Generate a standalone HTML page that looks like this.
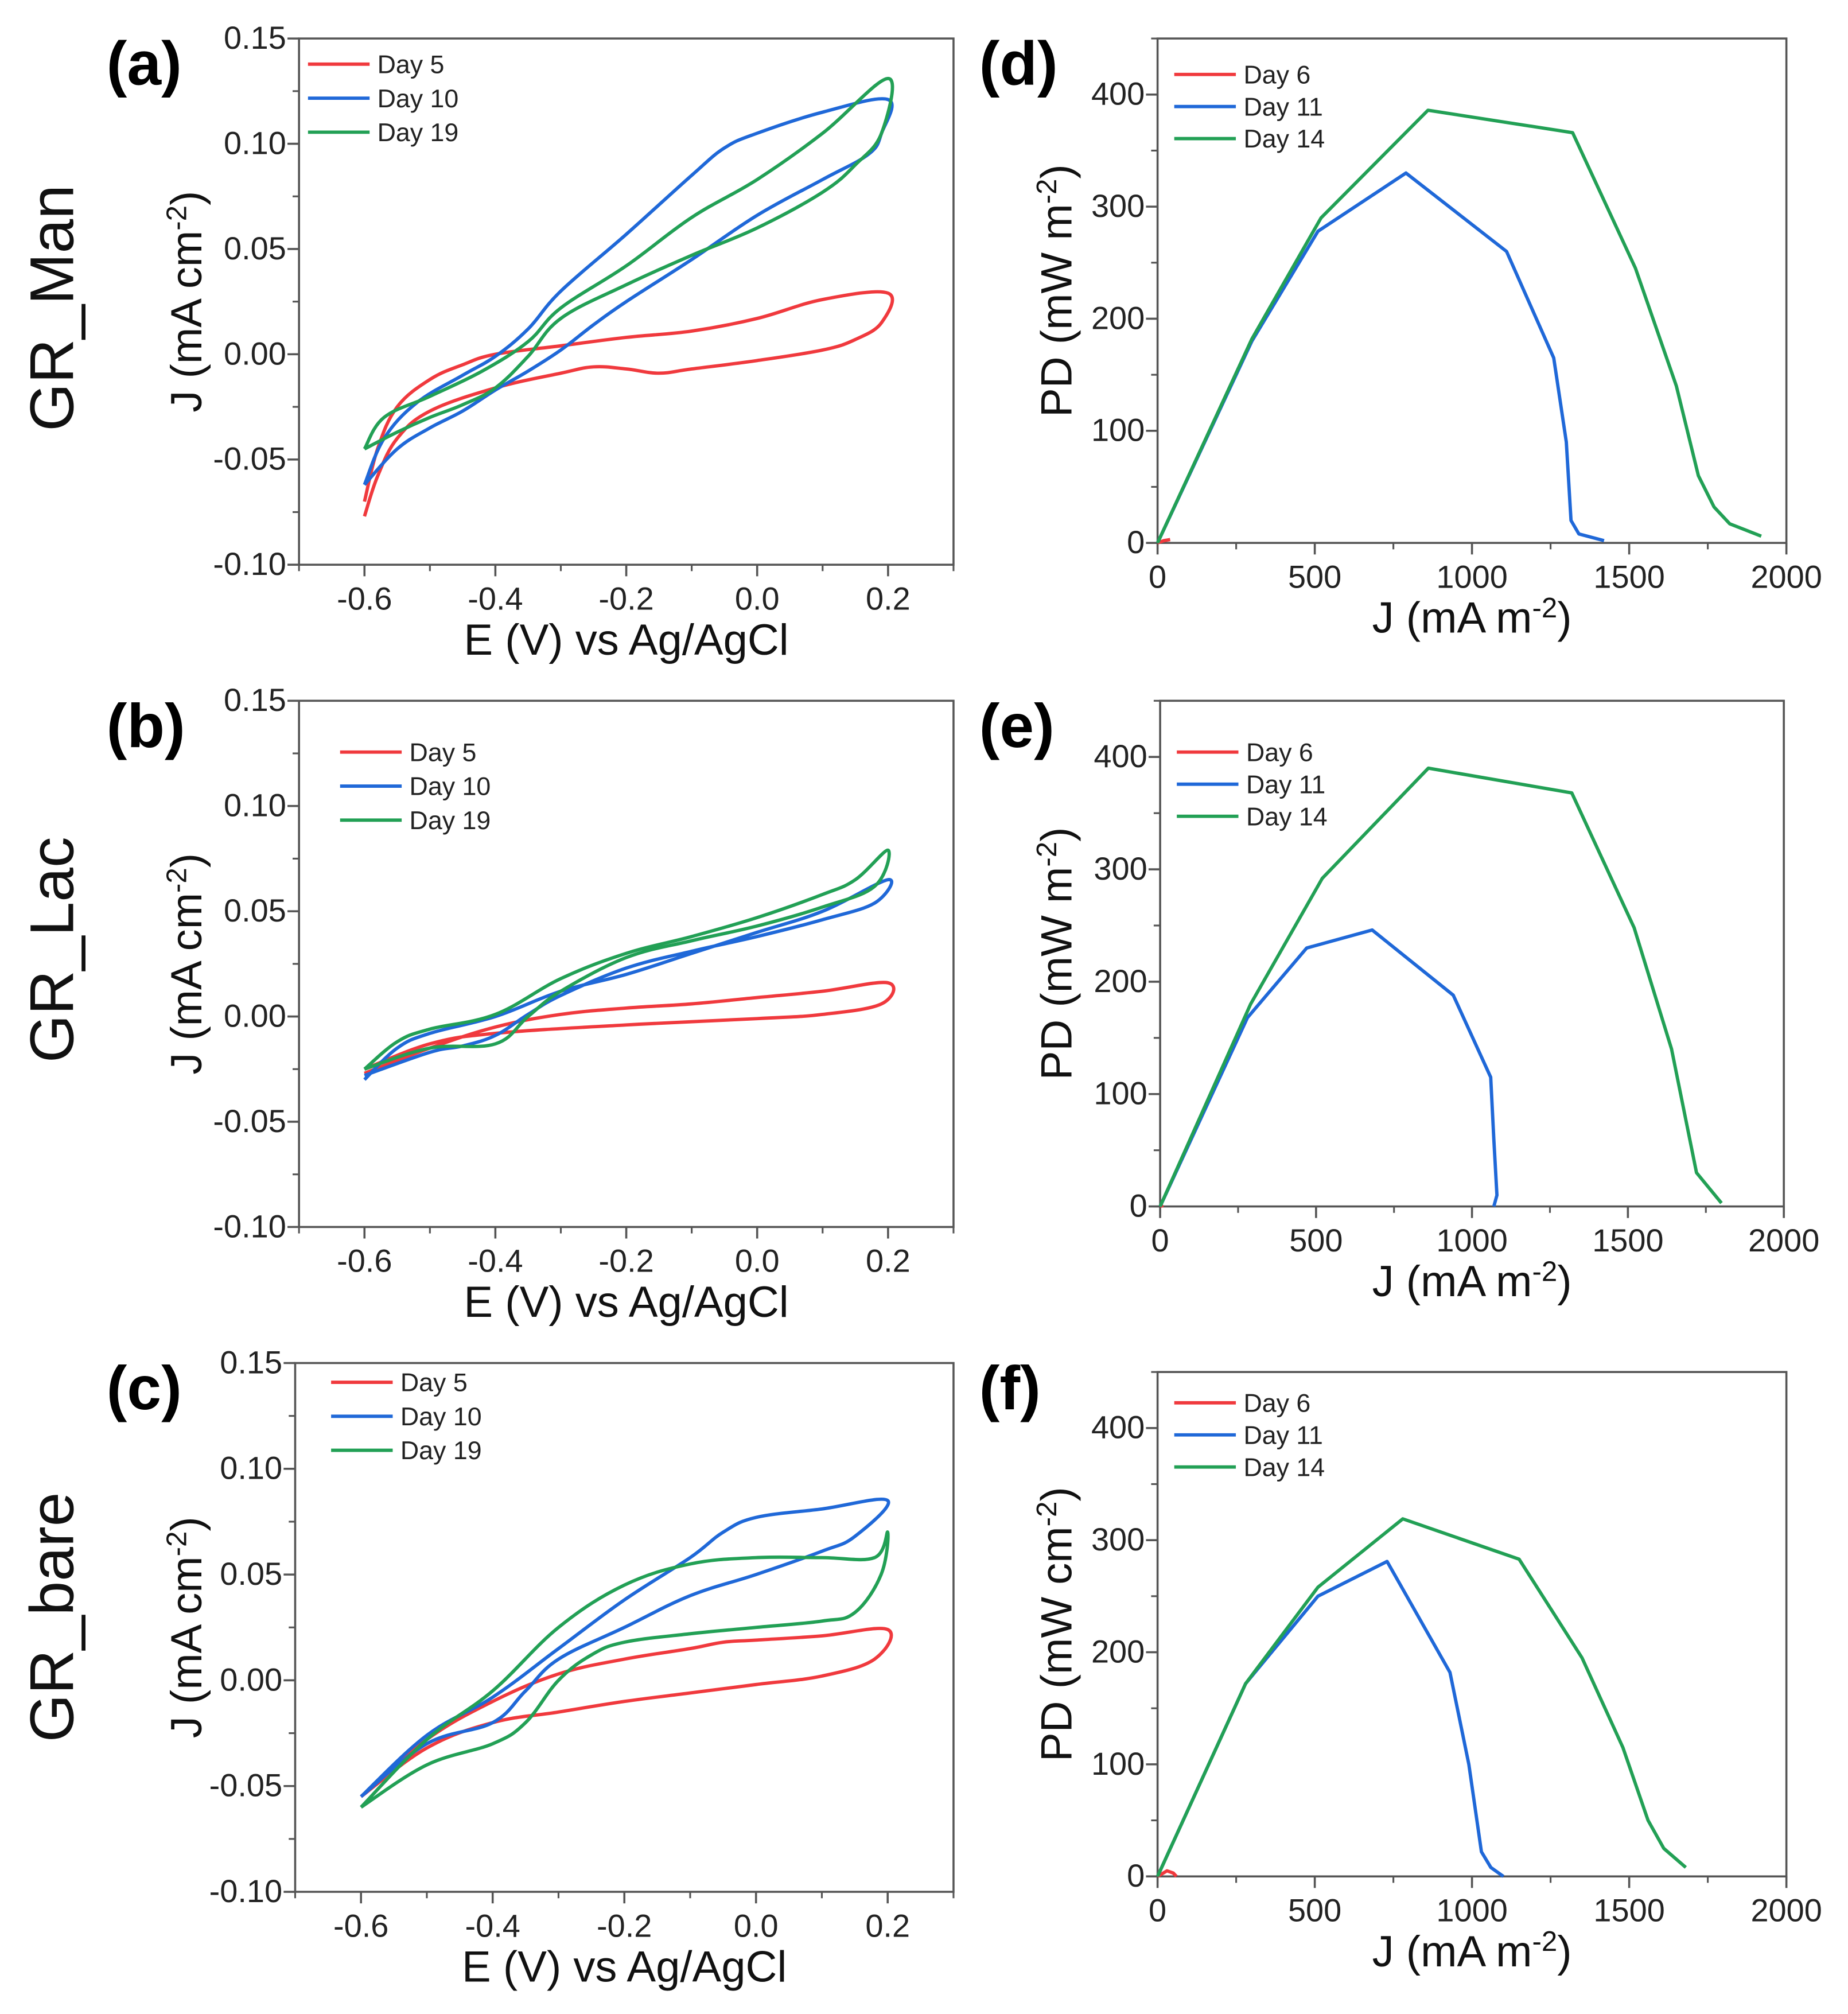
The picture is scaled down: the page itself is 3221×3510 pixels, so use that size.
<!DOCTYPE html>
<html><head><meta charset="utf-8">
<style>
html,body{margin:0;padding:0;background:#fff;}
svg{display:block;font-family:"Liberation Sans",Arial,sans-serif;}
</style></head>
<body>
<svg id="fig" width="3221" height="3510" viewBox="0 0 1440 1569.2" xmlns="http://www.w3.org/2000/svg">
<rect width="1440" height="1569.2" fill="#fff"/>
</svg>
<script>
// ---- CV data (E in V, J in mA cm-2), closed loops ----
const cvA_d5_E=[-0.6,-0.58,-0.55,-0.5,-0.45,-0.4,-0.3,-0.2,-0.1,0.0,0.1,0.2,0.19,0.15,0.1,0.0,-0.1,-0.15,-0.2,-0.25,-0.3,-0.4,-0.5,-0.55,-0.58,-0.6];
const cvA_d5_J=[-0.07,-0.045,-0.025,-0.012,-0.005,0.0,0.004,0.008,0.011,0.017,0.026,0.029,0.015,0.007,0.002,-0.003,-0.007,-0.009,-0.007,-0.006,-0.009,-0.016,-0.027,-0.04,-0.058,-0.077];
const cvA_d10_E=[-0.6,-0.57,-0.52,-0.45,-0.4,-0.35,-0.3,-0.2,-0.1,-0.05,0.0,0.1,0.2,0.19,0.17,0.1,0.0,-0.1,-0.2,-0.25,-0.3,-0.35,-0.4,-0.45,-0.5,-0.55,-0.6];
const cvA_d10_J=[-0.062,-0.04,-0.023,-0.01,-0.001,0.012,0.03,0.057,0.085,0.098,0.105,0.115,0.121,0.105,0.095,0.083,0.066,0.045,0.025,0.014,0.002,-0.008,-0.017,-0.027,-0.035,-0.045,-0.062];
const cvA_d19_E=[-0.6,-0.57,-0.5,-0.42,-0.35,-0.3,-0.2,-0.1,0.0,0.1,0.2,0.19,0.15,0.1,0.0,-0.1,-0.2,-0.3,-0.35,-0.4,-0.45,-0.5,-0.55,-0.6];
const cvA_d19_J=[-0.045,-0.03,-0.02,-0.008,0.006,0.022,0.042,0.065,0.083,0.105,0.131,0.105,0.09,0.077,0.06,0.047,0.033,0.017,-0.001,-0.016,-0.024,-0.03,-0.037,-0.045];

const cvB_d5_E=[-0.6,-0.5,-0.4,-0.3,-0.2,-0.1,0,0.1,0.2,0.19,0.1,0,-0.2,-0.4,-0.5,-0.6];
const cvB_d5_J=[-0.027,-0.015,-0.005,0.001,0.004,0.006,0.009,0.012,0.016,0.006,0.001,-0.001,-0.004,-0.008,-0.013,-0.025];
const cvB_d10_E=[-0.6,-0.55,-0.5,-0.4,-0.3,-0.2,-0.1,0,0.1,0.2,0.18,0.1,0,-0.1,-0.2,-0.3,-0.35,-0.4,-0.45,-0.5,-0.6];
const cvB_d10_J=[-0.03,-0.015,-0.008,0.0,0.012,0.02,0.03,0.04,0.05,0.065,0.054,0.046,0.038,0.031,0.023,0.01,0.001,-0.009,-0.014,-0.017,-0.028];
const cvB_d19_E=[-0.6,-0.55,-0.5,-0.4,-0.3,-0.2,-0.1,0,0.1,0.15,0.2,0.18,0.1,0,-0.1,-0.2,-0.3,-0.35,-0.4,-0.5,-0.6];
const cvB_d19_J=[-0.025,-0.012,-0.006,0.001,0.018,0.03,0.038,0.047,0.058,0.065,0.079,0.062,0.052,0.043,0.036,0.028,0.012,0.0,-0.013,-0.015,-0.025];

const cvC_d5_E=[-0.6,-0.5,-0.4,-0.3,-0.2,-0.1,-0.05,0,0.1,0.2,0.18,0.1,0,-0.1,-0.2,-0.3,-0.4,-0.5,-0.6];
const cvC_d5_J=[-0.055,-0.028,-0.01,0.003,0.01,0.015,0.018,0.019,0.021,0.024,0.01,0.002,-0.002,-0.006,-0.01,-0.015,-0.02,-0.032,-0.055];
const cvC_d10_E=[-0.6,-0.5,-0.4,-0.3,-0.2,-0.1,-0.05,0,0.1,0.2,0.15,0.1,0,-0.1,-0.2,-0.3,-0.35,-0.4,-0.5,-0.6];
const cvC_d10_J=[-0.055,-0.026,-0.008,0.015,0.038,0.058,0.07,0.077,0.081,0.085,0.068,0.061,0.05,0.04,0.025,0.01,-0.005,-0.02,-0.03,-0.055];
const cvC_d19_E=[-0.6,-0.5,-0.4,-0.35,-0.3,-0.25,-0.2,-0.1,0,0.1,0.15,0.19,0.2,0.18,0.1,0,-0.1,-0.2,-0.3,-0.4,-0.5,-0.6];
const cvC_d19_J=[-0.06,-0.04,-0.03,-0.02,0.0,0.012,0.018,0.022,0.025,0.028,0.032,0.05,0.07,0.058,0.058,0.058,0.055,0.045,0.025,-0.005,-0.028,-0.06];

// ---- Power density data (J mA m-2, PD) ----
const pdD_d6_J=[0,20,40]; const pdD_d6_P=[0,2,3];
const pdD_d11_J=[0,300,510,790,1110,1260,1300,1315,1340,1420]; const pdD_d11_P=[0,180,278,330,260,165,90,20,8,2];
const pdD_d14_J=[0,300,520,860,1320,1520,1650,1720,1770,1820,1920]; const pdD_d14_P=[0,182,290,386,366,245,140,60,32,17,6];
const pdE_d6_J=[0,10]; const pdE_d6_P=[0,1];
const pdE_d11_J=[0,280,470,680,940,1060,1070,1080,1070]; const pdE_d11_P=[0,168,230,246,188,115,60,10,0];
const pdE_d14_J=[0,290,520,860,1320,1520,1640,1720,1800]; const pdE_d14_P=[0,180,292,390,368,248,140,30,3];
const pdF_d6_J=[0,30,50,60]; const pdF_d6_P=[0,5,3,0];
const pdF_d11_J=[0,280,510,730,930,990,1030,1060,1100]; const pdF_d11_P=[0,172,250,281,182,100,22,8,0];
const pdF_d14_J=[0,280,510,780,1150,1350,1480,1560,1610,1680]; const pdF_d14_P=[0,172,258,319,283,195,115,50,25,8];

const cvXTicks=[-0.6,-0.4,-0.2,0.0,0.2];
const cvYTicks=[0.15,0.10,0.05,0.00,-0.05,-0.10];
const pdXTicks=[0,500,1000,1500,2000];
const pdYTicks=[0,100,200,300,400];
const cvLegend=["Day 5","Day 10","Day 19"];
const pdLegend=["Day 6","Day 11","Day 14"];
const COLORS=["#f0393d","#1f68d8","#22a055"];

const svg=document.getElementById('fig');
const NS="http://www.w3.org/2000/svg";
function mk(tag,attrs,parent){const e=document.createElementNS(NS,tag);for(const k in attrs)e.setAttribute(k,attrs[k]);(parent||svg).appendChild(e);return e;}
function txt(str,attrs,parent){const e=mk('text',attrs,parent);e.textContent=str;return e;}

function smoothPath(pts){
  let d='M'+pts[0][0].toFixed(2)+','+pts[0][1].toFixed(2);
  for(let i=0;i<pts.length-1;i++){
    const p0=pts[Math.max(0,i-1)],p1=pts[i],p2=pts[i+1],p3=pts[Math.min(pts.length-1,i+2)];
    const t=0.18;
    const c1=[p1[0]+(p2[0]-p0[0])*t,p1[1]+(p2[1]-p0[1])*t];
    const c2=[p2[0]-(p3[0]-p1[0])*t,p2[1]-(p3[1]-p1[1])*t];
    d+=' C'+c1[0].toFixed(2)+','+c1[1].toFixed(2)+' '+c2[0].toFixed(2)+','+c2[1].toFixed(2)+' '+p2[0].toFixed(2)+','+p2[1].toFixed(2);
  }
  return d;
}

function panel(cfg){
  const g=mk('g',{});
  
  
  const {L,R,T,B,xmin,xmax,ymin,ymax}=cfg;
  const sx=v=>L+(v-xmin)/(xmax-xmin)*(R-L);
  const sy=v=>B-(v-ymin)/(ymax-ymin)*(B-T);
  const box=mk('rect',{x:L,y:T,width:R-L,height:B-T,fill:'none',stroke:'#555','stroke-width':1.6},g);
  
  
  for(let v=xmin;v<=xmax+1e-9;v+=cfg.xminor){const x=sx(v);mk('line',{x1:x,x2:x,y1:B,y2:B+5,stroke:'#555','stroke-width':1.4},g);}
  for(let v=ymin;v<=ymax+1e-9;v+=cfg.yminor){const y=sy(v);mk('line',{x1:L,x2:L-5,y1:y,y2:y,stroke:'#555','stroke-width':1.4},g);}
  cfg.xticks.forEach(v=>{const x=sx(v);mk('line',{x1:x,x2:x,y1:B,y2:B+9,stroke:'#555','stroke-width':1.6},g);
    const t=txt(cfg.xfmt(v),{x:x,y:B+35,'font-size':25,'text-anchor':'middle',fill:'#222'},g);
    
    });
  cfg.yticks.forEach(v=>{const y=sy(v);mk('line',{x1:L,x2:L-9,y1:y,y2:y,stroke:'#555','stroke-width':1.6},g);
    const t=txt(cfg.yfmt(v),{x:L-10,y:y+8,'font-size':25,'text-anchor':'end',fill:'#222'},g);
    
    });
  cfg.series.forEach((s,i)=>{
    const pts=s[0].map((xv,k)=>[sx(xv),sy(s[1][k])]);
    const d=cfg.smooth?smoothPath(pts):pts.map((p,k)=>(k?'L':'M')+p[0].toFixed(2)+','+p[1].toFixed(2)).join(' ');
    const p=mk('path',{d:d,fill:'none',stroke:COLORS[i],'stroke-width':2.6,'stroke-linejoin':'round'},g);
    
    
  });
  cfg.legend.forEach((lab,i)=>{
    const y=cfg.legY+i*cfg.legDy;
    const l=mk('line',{x1:cfg.legX,x2:cfg.legX+48,y1:y,y2:y,stroke:COLORS[i],'stroke-width':2.6},g);
    
    
    const t=txt(lab,{x:cfg.legX+54,y:y+7,'font-size':20,fill:'#222'},g);
    
    
  });
  const xl=mk('text',{x:(L+R)/2+cfg.xlOff,y:B+70,'font-size':34,'text-anchor':'middle',fill:'#111'},g);
  xl.innerHTML=cfg.xlabel;
  
  
  const yl=mk('text',{x:0,y:0,'font-size':34,'text-anchor':'middle',fill:'#111',transform:`translate(${cfg.ylX},${(T+B)/2}) rotate(-90)`},g);
  yl.innerHTML=cfg.ylabel;
  
  
  const pl=txt(cfg.tag,{x:cfg.tagX,y:cfg.tagY,'font-size':48,'font-weight':'bold',fill:'#000'},g);
  
  
}

const cvF=v=>v.toFixed(1);
const cvYF=v=>v.toFixed(2);
const cvYL='J (mA cm<tspan dy="-12" font-size="22">-2</tspan><tspan dy="12">)</tspan>';
function cv(name,tag,T,B,L,series,legX,legY,tagY){
  panel({name,tag,L,R:743,T,B,xmin:-0.7,xmax:0.3,ymin:-0.10,ymax:0.15,xminor:0.1,yminor:0.025,
    xticks:cvXTicks,yticks:cvYTicks,xfmt:cvF,yfmt:cvYF,series,legend:cvLegend,legX,legY,legDy:26.5,smooth:true,
    xlabel:'E (V) vs Ag/AgCl',xlOff:0,ylabel:cvYL,ylX:157,tagX:83,tagY});
}
cv('cv-panel-a','(a)',30,440,233,[[cvA_d5_E,cvA_d5_J],[cvA_d10_E,cvA_d10_J],[cvA_d19_E,cvA_d19_J]],240,50,66);
cv('cv-panel-b','(b)',546,956,233,[[cvB_d5_E,cvB_d5_J],[cvB_d10_E,cvB_d10_J],[cvB_d19_E,cvB_d19_J]],265,586,582);
cv('cv-panel-c','(c)',1062,1474,230,[[cvC_d5_E,cvC_d5_J],[cvC_d10_E,cvC_d10_J],[cvC_d19_E,cvC_d19_J]],258,1077,1098);

const pdF=v=>String(v);
function pd(name,tag,T,B,L,R,series,legY,ylabel,tagY){
  panel({name,tag,L,R,T,B,xmin:0,xmax:2000,ymin:0,ymax:450,xminor:250,yminor:50,
    xticks:pdXTicks,yticks:pdYTicks,xfmt:pdF,yfmt:pdF,series,legend:pdLegend,legX:L+13,legY,legDy:25,smooth:false,
    xlabel:'J (mA m<tspan dy="-12" font-size="22">-2</tspan><tspan dy="12">)</tspan>',xlOff:0,ylabel,ylX:835,tagX:763,tagY});
}
const pdYL1='PD (mW m<tspan dy="-12" font-size="22">-2</tspan><tspan dy="12">)</tspan>';
const pdYL2='PD (mW cm<tspan dy="-12" font-size="22">-2</tspan><tspan dy="12">)</tspan>';
pd('pd-panel-d','(d)',30,423,902,1392,[[pdD_d6_J,pdD_d6_P],[pdD_d11_J,pdD_d11_P],[pdD_d14_J,pdD_d14_P]],58,pdYL1,66);
pd('pd-panel-e','(e)',546,940,904,1390,[[pdE_d6_J,pdE_d6_P],[pdE_d11_J,pdE_d11_P],[pdE_d14_J,pdE_d14_P]],586,pdYL1,582);
pd('pd-panel-f','(f)',1069,1462,902,1392,[[pdF_d6_J,pdF_d6_P],[pdF_d11_J,pdF_d11_P],[pdF_d14_J,pdF_d14_P]],1093,pdYL2,1098);

[['GR_Man',240],['GR_Lac',740],['GR_bare',1260]].forEach(([s,cy])=>{
  const t=txt(s,{x:0,y:0,'font-size':48,'text-anchor':'middle',fill:'#111',transform:`translate(57,${cy}) rotate(-90)`});
  
  
});
</script>
</body></html>
